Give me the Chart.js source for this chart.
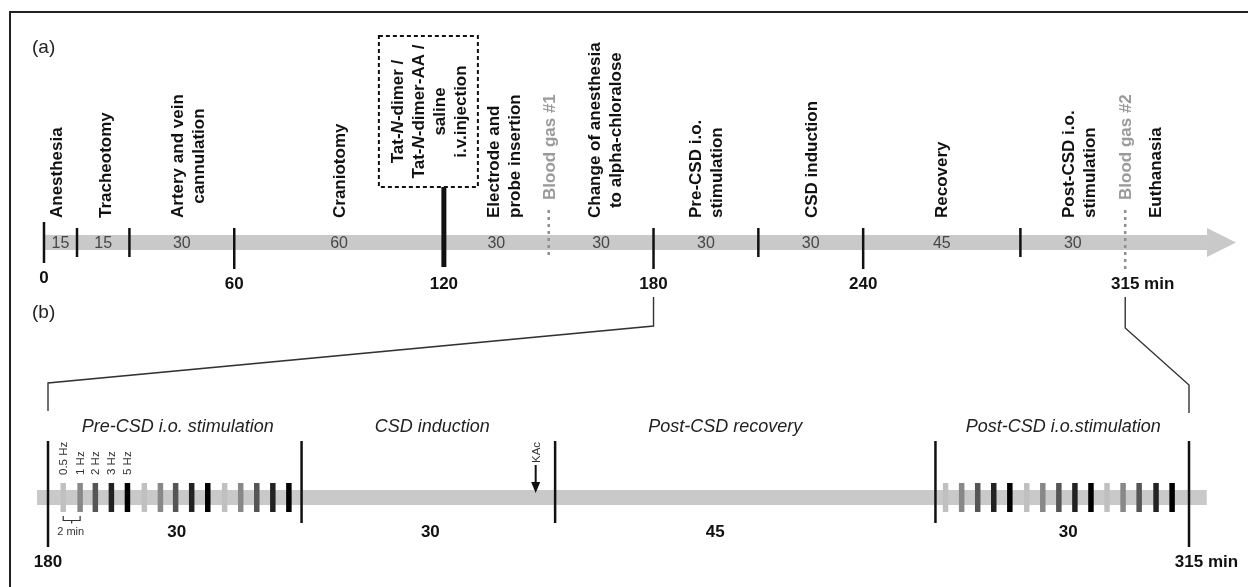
<!DOCTYPE html>
<html>
<head>
<meta charset="utf-8">
<title>Experimental protocol timeline</title>
<script src="https://cdn.jsdelivr.net/npm/chart.js@4.4.0/dist/chart.umd.min.js"></script>
<style>
  html, body { margin: 0; padding: 0; background: #ffffff; }
  #wrap { width: 1248px; height: 587px; position: relative; }
  canvas { display: block; }
</style>
</head>
<body>
<div id="wrap"><canvas id="timeline" width="1248" height="587"></canvas></div>
<script>
// ---------- (a) whole protocol, minutes ----------
const stepStarts    = [0, 15, 30, 60, 120, 150, 180, 210, 240, 285];
const stepDurations = [15, 15, 30, 60, 30, 30, 30, 30, 45, 30];
const stepLabels = [
  ['Anesthesia'],
  ['Tracheotomy'],
  ['Artery and vein', 'cannulation'],
  ['Craniotomy'],
  ['Electrode and', 'probe insertion'],
  ['Change of anesthesia', 'to alpha-chloralose'],
  ['Pre-CSD i.o.', 'stimulation'],
  ['CSD induction'],
  ['Recovery'],
  ['Post-CSD i.o.', 'stimulation']
];
const startTime = 0;
const majorTickTimes = [60, 180, 240];
const minorTickTimes = [15, 30, 210, 285];
const axisTickLabels = [0, 60, 120, 180, 240, 315];
const axisUnit = 'min';
const injectionTime = 120;
// text between underscores is set in italics
const injectionLines = ['Tat-_N_-dimer /', 'Tat-_N_-dimer-AA /', 'saline', 'i.v.injection'];
const bloodGasTimes  = [150, 315];
const bloodGasLabels = ['Blood gas #1', 'Blood gas #2'];
const euthanasiaTime = 315;
const euthanasiaLabel = 'Euthanasia';

// ---------- (b) detail of 180–315 min ----------
const detailStarts    = [180, 210, 240, 285];
const detailDurations = [30, 30, 45, 30];
const detailTitles = ['Pre-CSD i.o. stimulation', 'CSD induction', 'Post-CSD recovery', 'Post-CSD i.o.stimulation'];
const detailMajorTicks = [180, 315];
const detailMinorTicks = [210, 240, 285];
const detailTickLabels = [180, 315];
const stimFrequencies = ['0.5 Hz', '1 Hz', '2 Hz', '3 Hz', '5 Hz'];
const preStimTimes  = [181.8, 183.8, 185.6, 187.5, 189.4, 191.4, 193.3, 195.1, 197.0, 198.9, 200.9, 202.8, 204.7, 206.6, 208.5];
const postStimTimes = [286.2, 288.1, 290.0, 291.9, 293.8, 295.8, 297.7, 299.6, 301.5, 303.4, 305.3, 307.2, 309.1, 311.1, 313.0];
const stimIntervalLabel = '2 min';
const kacTime = 237.7;
const kacLabel = 'KAc';

// ---------- layout (canvas rows, px) ----------
const FONT = '"Liberation Sans", Arial, Helvetica, sans-serif';
const BAND_COLOR = '#c9c9c9';
const INK = '#111111';
const CAP = 12.2;          // cap height of the 17px bold labels
const LINE_STEP = 21;      // spacing between stacked vertical lines
const A_BAND_Y = 242.5, A_MAJOR = [228, 269], A_START = [222, 263], A_MINOR = [228, 257], A_INJ = [187, 267];
const A_LABEL_BASE = 218, A_GAS_TEXT_BASE = 200, A_TICKLABEL_Y = 284;
const A_BAND_END = 338.4;  // minutes, where the arrow head starts
const B_BAND_Y = 497.5, B_MAJOR = [441, 547], B_MINOR = [441, 523], B_STIM = [483, 512];
const B_BAND_RANGE = [178.7, 317.1];
const B_TITLE_Y = 427, B_DUR_Y = 532, B_TICKLABEL_Y = 562;
const centeredStepLabels = new Set([2, 5]);
const stepLabelShift = [-5, 2, 6, 0, 7, 3, -1, 0, -1, 6];   // px, sideways fine-tuning
const detailTitleShift = [3, 4, -20, 1];
const detailDurationShift = [2, 2, -30, 6];
const stimShades = ['#c0c0c0', '#888888', '#555555', '#222222', '#000000'];

// Linear scale whose first stretch (before `leadIn.until`) is drawn compressed.
const LinearBase = Chart.LinearScale || Chart.registry.getScale('linear');
class LeadInScale extends LinearBase {
  getPixelForValue(value) {
    const px = super.getPixelForValue(value);
    const o = this.options.leadIn;
    if (!o || value === null || value >= o.until) return px;
    const edge = super.getPixelForValue(o.until);
    return edge - (edge - px) * o.factor;
  }
}
LeadInScale.id = 'leadIn';
LeadInScale.defaults = {};
Chart.register(LeadInScale);

function marks(times, axis, range, width, color, order) {
  const r = (range[1] - range[0]) / 2;
  return {
    xAxisID: axis, yAxisID: 'y', order,
    data: times.map(t => ({ x: t, y: range[0] + r })),
    showLine: false,
    pointStyle: 'line', pointRotation: 90,
    pointRadius: r, pointHoverRadius: r,
    pointBorderWidth: width, pointHoverBorderWidth: width,
    pointBorderColor: color, pointBackgroundColor: color
  };
}

function band(axis, from, to, y) {
  return {
    xAxisID: axis, yAxisID: 'y', order: 10,
    data: [{ x: from, y }, { x: to, y }],
    showLine: true, borderColor: BAND_COLOR, borderWidth: 15,
    borderCapStyle: 'butt', pointRadius: 0, pointHoverRadius: 0
  };
}

const gasData = [];
bloodGasTimes.forEach((t) => {
  const bottom = axisTickLabels.includes(t) ? A_MAJOR[1] : A_MINOR[1];
  gasData.push({ x: t, y: 210 }, { x: t, y: bottom }, { x: t, y: null });
});

const stimSet = (times) => {
  const ds = marks(times, 'xb', B_STIM, 5.5, '#000', 1);
  ds.pointBorderColor = times.map((_, i) => stimShades[i % stimFrequencies.length]);
  return ds;
};

const datasets = [
  band('xa', startTime, A_BAND_END, A_BAND_Y),
  band('xb', B_BAND_RANGE[0], B_BAND_RANGE[1], B_BAND_Y),
  marks([startTime], 'xa', A_START, 2.5, INK, 2),
  marks(majorTickTimes, 'xa', A_MAJOR, 2.5, INK, 2),
  marks(minorTickTimes, 'xa', A_MINOR, 2.5, INK, 2),
  marks([injectionTime], 'xa', A_INJ, 5, INK, 2),
  {
    xAxisID: 'xa', yAxisID: 'y', order: 3, data: gasData,
    showLine: true, spanGaps: false, borderColor: '#8e8e8e', borderWidth: 2.5,
    borderDash: [3, 4], borderCapStyle: 'butt', pointRadius: 0, pointHoverRadius: 0
  },
  marks(detailMajorTicks, 'xb', B_MAJOR, 2.5, INK, 2),
  marks(detailMinorTicks, 'xb', B_MINOR, 2.5, INK, 2),
  stimSet(preStimTimes),
  stimSet(postStimTimes)
];

function vText(ctx, text, baseX, y, align) {
  ctx.save();
  ctx.translate(baseX, y);
  ctx.rotate(-Math.PI / 2);
  ctx.textAlign = align || 'left';
  ctx.textBaseline = 'alphabetic';
  ctx.fillText(text, 0, 0);
  ctx.restore();
}

function richVText(ctx, markup, baseX, centerY, size) {
  const parts = markup.split('_').map((t, i) => ({ t, italic: i % 2 === 1 })).filter(p => p.t);
  const fontOf = p => `${p.italic ? 'italic ' : ''}bold ${size}px ${FONT}`;
  let total = 0;
  parts.forEach(p => { ctx.font = fontOf(p); p.w = ctx.measureText(p.t).width; total += p.w; });
  ctx.save();
  ctx.translate(baseX, centerY);
  ctx.rotate(-Math.PI / 2);
  ctx.textAlign = 'left';
  ctx.textBaseline = 'alphabetic';
  let x = -total / 2;
  parts.forEach(p => { ctx.font = fontOf(p); ctx.fillText(p.t, x, 0); x += p.w; });
  ctx.restore();
}

function tickLabel(ctx, value, unit, x, y) {
  const num = String(value);
  const w = ctx.measureText(num).width;
  ctx.textAlign = 'left';
  ctx.fillText(unit ? num + ' ' + unit : num, x - w / 2, y);
}

const annotations = {
  id: 'protocolAnnotations',
  afterDatasetsDraw(chart) {
    const ctx = chart.ctx;
    const xa = v => chart.scales.xa.getPixelForValue(v);
    const xb = v => chart.scales.xb.getPixelForValue(v);
    ctx.save();

    // frame
    ctx.strokeStyle = '#222';
    ctx.lineWidth = 2;
    ctx.beginPath();
    ctx.moveTo(10, 587); ctx.lineTo(10, 12); ctx.lineTo(1248, 12);
    ctx.stroke();

    // panel letters
    ctx.fillStyle = '#222';
    ctx.font = `19px ${FONT}`;
    ctx.textBaseline = 'middle';
    ctx.textAlign = 'left';
    ctx.fillText('(a)', 32, 48);
    ctx.fillText('(b)', 32, 313);

    // arrow head of the main time axis
    const ah = xa(A_BAND_END);
    ctx.fillStyle = BAND_COLOR;
    ctx.beginPath();
    ctx.moveTo(ah, A_BAND_Y - 14.5);
    ctx.lineTo(ah + 29, A_BAND_Y);
    ctx.lineTo(ah, A_BAND_Y + 14.5);
    ctx.closePath();
    ctx.fill();

    // durations on the main axis
    ctx.fillStyle = '#474747';
    ctx.font = `16px ${FONT}`;
    ctx.textAlign = 'center';
    ctx.textBaseline = 'middle';
    stepStarts.forEach((s, i) => {
      const mid = (xa(s) + xa(s + stepDurations[i])) / 2;
      ctx.fillText(String(stepDurations[i]), mid, A_BAND_Y + 1);
    });

    // tick labels of the main axis
    ctx.fillStyle = INK;
    ctx.font = `bold 17px ${FONT}`;
    axisTickLabels.forEach((v, i) => {
      const y = v === startTime ? A_TICKLABEL_Y - (A_MAJOR[1] - A_START[1]) : A_TICKLABEL_Y;
      tickLabel(ctx, v, i === axisTickLabels.length - 1 ? axisUnit : '', xa(v), y);
    });

    // step labels, written vertically
    ctx.font = `bold 17px ${FONT}`;
    ctx.fillStyle = INK;
    stepLabels.forEach((lines, i) => {
      const mid = (xa(stepStarts[i]) + xa(stepStarts[i] + stepDurations[i])) / 2 + stepLabelShift[i];
      const span = (lines.length - 1) * LINE_STEP + CAP;
      const first = mid - span / 2 + CAP;
      const maxW = Math.max(...lines.map(l => ctx.measureText(l).width));
      lines.forEach((line, j) => {
        const bx = first + j * LINE_STEP;
        if (centeredStepLabels.has(i)) vText(ctx, line, bx, A_LABEL_BASE - maxW / 2, 'center');
        else vText(ctx, line, bx, A_LABEL_BASE, 'left');
      });
    });

    // euthanasia, just after the end of the protocol
    vText(ctx, euthanasiaLabel, xa(euthanasiaTime) + 30 + CAP / 2, A_LABEL_BASE, 'left');

    // blood gas samples
    ctx.fillStyle = '#9a9a9a';
    bloodGasTimes.forEach((t, i) => {
      vText(ctx, bloodGasLabels[i], xa(t) + CAP / 2, A_GAS_TEXT_BASE, 'left');
    });

    // injection box
    const ix = xa(injectionTime);
    const box = { l: ix - 65, r: ix + 34, t: 36, b: 187 };
    ctx.strokeStyle = INK;
    ctx.lineWidth = 2;
    ctx.setLineDash([4, 3]);
    ctx.strokeRect(box.l, box.t, box.r - box.l, box.b - box.t);
    ctx.setLineDash([]);
    ctx.fillStyle = INK;
    const cx = (box.l + box.r) / 2, cy = (box.t + box.b) / 2;
    const span = (injectionLines.length - 1) * LINE_STEP + CAP;
    injectionLines.forEach((line, j) => {
      richVText(ctx, line, cx - span / 2 + CAP + j * LINE_STEP, cy, 17);
    });

    // zoom connectors from (a) to (b)
    ctx.strokeStyle = '#333';
    ctx.lineWidth = 1.4;
    [[180, 326, 383, 411], [315, 328, 385, 413]].forEach(([t, y1, y2, y3]) => {
      ctx.beginPath();
      ctx.moveTo(xa(t), 297);
      ctx.lineTo(xa(t), y1);
      ctx.lineTo(xb(t), y2);
      ctx.lineTo(xb(t), y3);
      ctx.stroke();
    });

    // (b) section titles
    ctx.fillStyle = '#222';
    ctx.font = `italic 18px ${FONT}`;
    ctx.textAlign = 'center';
    ctx.textBaseline = 'middle';
    detailStarts.forEach((s, i) => {
      const mid = (xb(s) + xb(s + detailDurations[i])) / 2;
      ctx.fillText(detailTitles[i], mid + detailTitleShift[i], B_TITLE_Y);
    });

    // (b) durations
    ctx.fillStyle = INK;
    ctx.font = `bold 17px ${FONT}`;
    detailStarts.forEach((s, i) => {
      const mid = (xb(s) + xb(s + detailDurations[i])) / 2;
      ctx.fillText(String(detailDurations[i]), mid + detailDurationShift[i], B_DUR_Y);
    });

    // (b) tick labels
    detailTickLabels.forEach((v, i) => {
      tickLabel(ctx, v, i === detailTickLabels.length - 1 ? axisUnit : '', xb(v), B_TICKLABEL_Y);
    });

    // stimulation frequencies
    ctx.fillStyle = '#333';
    ctx.font = `11.5px ${FONT}`;
    stimFrequencies.forEach((f, i) => {
      vText(ctx, f, xb(preStimTimes[i]) + 4, 475, 'left');
    });

    // 2-min bracket
    const b1 = xb(preStimTimes[0]), b2 = xb(preStimTimes[1]);
    ctx.strokeStyle = '#333';
    ctx.lineWidth = 1.2;
    ctx.beginPath();
    ctx.moveTo(b1, 516); ctx.lineTo(b1, 520.5); ctx.lineTo(b2, 520.5); ctx.lineTo(b2, 516);
    ctx.moveTo((b1 + b2) / 2, 520.5); ctx.lineTo((b1 + b2) / 2, 523.5);
    ctx.stroke();
    ctx.font = `11px ${FONT}`;
    ctx.textAlign = 'center';
    ctx.textBaseline = 'middle';
    ctx.fillText(stimIntervalLabel, (b1 + b2) / 2 - 1, 532);

    // KAc application
    const kx = xb(kacTime);
    ctx.font = `11.5px ${FONT}`;
    vText(ctx, kacLabel, kx + 4, 463, 'left');
    ctx.strokeStyle = INK;
    ctx.fillStyle = INK;
    ctx.lineWidth = 2;
    ctx.beginPath();
    ctx.moveTo(kx, 465); ctx.lineTo(kx, 484);
    ctx.stroke();
    ctx.beginPath();
    ctx.moveTo(kx - 4.5, 482); ctx.lineTo(kx + 4.5, 482); ctx.lineTo(kx, 493);
    ctx.closePath();
    ctx.fill();

    ctx.restore();
  }
};

new Chart(document.getElementById('timeline'), {
  type: 'scatter',
  data: { datasets },
  options: {
    responsive: false,
    animation: false,
    events: [],
    layout: { padding: 0, autoPadding: false },
    plugins: { legend: { display: false }, tooltip: { enabled: false } },
    scales: {
      xa: { type: 'leadIn', display: false, bounds: 'data', min: -7.04, max: 350.14,
            leadIn: { until: 15, factor: 0.63 } },
      xb: { type: 'linear', display: false, bounds: 'data', min: 174.32, max: 321.98 },
      y:  { type: 'linear', display: false, bounds: 'data', min: 0, max: 587, reverse: true }
    }
  },
  plugins: [annotations]
});
</script>
</body>
</html>
